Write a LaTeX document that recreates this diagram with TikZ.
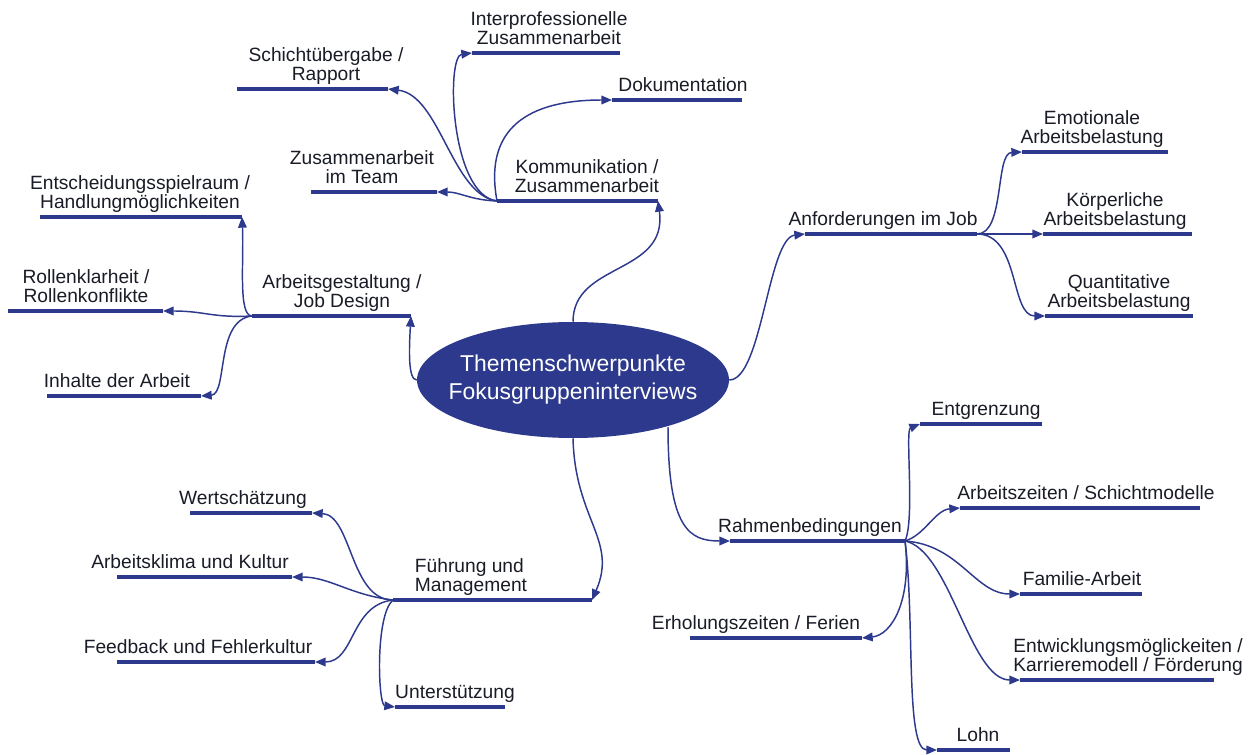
\documentclass[tikz,border=0pt]{standalone}
\usepackage{fontspec}
\setmainfont{Liberation Sans}
\usetikzlibrary{arrows.meta, positioning, shapes.geometric}
\definecolor{mapblue}{RGB}{44,57,140}
\definecolor{maptext}{RGB}{25,28,38}

\begin{document}
\begin{tikzpicture}[
            x=0.75pt, y=-0.75pt,
            bar/.style={draw=mapblue, line width=3.2pt},
            conn/.style={draw=mapblue, line width=1.1pt, -{Triangle[length=8pt,width=6.5pt]}},
            lbl/.style={text=maptext, font=\fontsize{14.4}{14.4}\selectfont, align=center, inner sep=0pt, text depth=0pt, anchor=south},
            hub/.style={ellipse, fill=mapblue, inner xsep=-10.5pt, inner ysep=0pt, minimum height=87pt, text=white, font=\fontsize{17.2}{21}\selectfont, align=center}
        ]
        \useasboundingbox (0,0) rectangle (1248,755);

        % Zentrum
        \node[hub] (center) at (573,380) {Themenschwerpunkte\\Fokusgruppeninterviews};

        % Kommunikation
        \coordinate (kommL) at (497,201); \coordinate (kommR) at (658,201);
        \draw[bar] (kommL) -- (kommR);
        \node[lbl] (komm) at (587,193) {Kommunikation /\\Zusammenarbeit};

        \coordinate (interproL) at (472,53); \draw[bar] (interproL) -- (620,53);
        \node[lbl] (interpro) at (549,45) {Interprofessionelle\\Zusammenarbeit};
        \coordinate (dokuL) at (612,100); \draw[bar] (dokuL) -- (742,100);
        \node[lbl] (doku) at (683,92) {Dokumentation};
        \coordinate (schichtR) at (388,89); \draw[bar] (237,89) -- (schichtR);
        \node[lbl] (schicht) at (326,81) {Schichtübergabe /\\Rapport};
        \coordinate (teamR) at (437,192); \draw[bar] (311,192) -- (teamR);
        \node[lbl] (team) at (362,184) {Zusammenarbeit\\im Team};

        % Arbeitsgestaltung
        \coordinate (jobL) at (252,316); \coordinate (jobR) at (411,316);
        \draw[bar] (jobL) -- (jobR);
        \node[lbl] (job) at (342,308) {Arbeitsgestaltung /\\Job Design};

        \coordinate (spielR) at (242,217); \draw[bar] (40,217) -- (spielR);
        \node[lbl] (spiel) at (140,209) {Entscheidungsspielraum /\\Handlungmöglichkeiten};
        \coordinate (rollenR) at (163,311); \draw[bar] (8,311) -- (rollenR);
        \node[lbl] (rollen) at (86,303) {Rollenklarheit /\\Rollenkonflikte};
        \coordinate (inhaltR) at (201,396); \draw[bar] (47,396) -- (inhaltR);
        \node[lbl] (inhalt) at (117,388) {Inhalte der Arbeit};

        % Anforderungen
        \coordinate (anfL) at (805,234); \coordinate (anfR) at (977,234);
        \draw[bar] (anfL) -- (anfR);
        \node[lbl] (anf) at (883,226) {Anforderungen im Job};

        \coordinate (emoL) at (1022,152); \draw[bar] (emoL) -- (1168,152);
        \node[lbl] (emo) at (1092,144) {Emotionale\\Arbeitsbelastung};
        \coordinate (koerpL) at (1043,234); \draw[bar] (koerpL) -- (1192,234);
        \node[lbl] (koerp) at (1115,226) {Körperliche\\Arbeitsbelastung};
        \coordinate (quantL) at (1045,316); \draw[bar] (quantL) -- (1193,316);
        \node[lbl] (quant) at (1119,308) {Quantitative\\Arbeitsbelastung};

        % Rahmenbedingungen
        \coordinate (rahmL) at (730,541); \coordinate (rahmR) at (905,541);
        \draw[bar] (rahmL) -- (rahmR);
        \node[lbl] (rahm) at (810,533) {Rahmenbedingungen};

        \coordinate (entgrL) at (920,424); \draw[bar] (entgrL) -- (1042,424);
        \node[lbl] (entgr) at (986,416) {Entgrenzung};
        \coordinate (zeitL) at (960,508); \draw[bar] (zeitL) -- (1200,508);
        \node[lbl] (zeit) at (1086,500) {Arbeitszeiten / Schichtmodelle};
        \coordinate (famL) at (1020,594); \draw[bar] (famL) -- (1142,594);
        \node[lbl] (fam) at (1082,586) {Familie-Arbeit};
        \coordinate (entwL) at (1020,680); \draw[bar] (entwL) -- (1214,680);
        \node[lbl] (entw) at (1128,672) {Entwicklungsmöglickeiten /\\Karrieremodell / Förderung};
        \coordinate (erhR) at (862,638); \draw[bar] (690,638) -- (erhR);
        \node[lbl] (erh) at (756,630) {Erholungszeiten / Ferien};
        \coordinate (lohnL) at (937,750); \draw[bar] (lohnL) -- (1010,750);
        \node[lbl] (lohn) at (978,742) {Lohn};

        % Fuehrung
        \coordinate (fuehrL) at (393,600); \coordinate (fuehrR) at (592,600);
        \draw[bar] (fuehrL) -- (fuehrR);
        \node[lbl, align=left] (fuehr) at (471,592) {Führung und\\Management};

        \coordinate (wertR) at (312,513); \draw[bar] (190,513) -- (wertR);
        \node[lbl] (wert) at (243,505) {Wertschätzung};
        \coordinate (klimaR) at (292,577); \draw[bar] (117,577) -- (klimaR);
        \node[lbl] (klima) at (190,569) {Arbeitsklima und Kultur};
        \coordinate (feedR) at (315,662); \draw[bar] (117,662) -- (feedR);
        \node[lbl] (feed) at (198,654) {Feedback und Fehlerkultur};
        \coordinate (untL) at (395,707); \draw[bar] (untL) -- (505,707);
        \node[lbl] (unt) at (455,699) {Unterstützung};

        % Verbindungen vom Zentrum
        \draw[conn] (center.north) .. controls (573,262) and (668,275) .. (kommR);
        \draw[conn] (center.west) .. controls (408,380) and (409,350) .. (jobR);
        \draw[conn] (center.east) .. controls (762,380) and (768,238) .. (anfL);
        \draw[conn] (668,427) .. controls (668,530) and (690,541) .. (rahmL);
        \draw[conn] (center.south) .. controls (575,520) and (618,540) .. (fuehrR);

        % Kommunikation -> Unterthemen
        \draw[conn] (kommL) .. controls (450,195) and (446,56) .. (interproL);
        \draw[conn] (kommL) .. controls (482,120) and (540,100) .. (dokuL);
        \draw[conn] (kommL) .. controls (452,195) and (440,95) .. (schichtR);
        \draw[conn] (kommL) .. controls (470,200) and (460,192) .. (teamR);

        % Arbeitsgestaltung -> Unterthemen
        \draw[conn] (jobL) .. controls (238,316) and (244,262) .. (spielR);
        \draw[conn] (jobL) .. controls (212,318) and (205,311) .. (rollenR);
        \draw[conn] (jobL) .. controls (215,320) and (228,394) .. (inhaltR);

        % Anforderungen -> Unterthemen
        \draw[conn] (anfR) .. controls (1005,234) and (995,153) .. (emoL);
        \draw[conn] (anfR) -- (koerpL);
        \draw[conn] (anfR) .. controls (1020,234) and (1010,316) .. (quantL);

        % Rahmenbedingungen -> Unterthemen
        \draw[conn] (rahmR) .. controls (915,520) and (905,430) .. (entgrL);
        \draw[conn] (rahmR) .. controls (925,535) and (935,510) .. (zeitL);
        \draw[conn] (rahmR) .. controls (960,545) and (975,594) .. (famL);
        \draw[conn] (rahmR) .. controls (950,550) and (970,680) .. (entwL);
        \draw[conn] (rahmR) .. controls (912,600) and (892,635) .. (erhR);
        \draw[conn] (rahmR) .. controls (915,620) and (905,750) .. (lohnL);

        % Fuehrung -> Unterthemen
        \draw[conn] (fuehrL) .. controls (350,600) and (352,515) .. (wertR);
        \draw[conn] (fuehrL) .. controls (350,595) and (330,577) .. (klimaR);
        \draw[conn] (fuehrL) .. controls (350,605) and (355,662) .. (feedR);
        \draw[conn] (fuehrL) .. controls (375,615) and (378,705) .. (untL);

    \end{tikzpicture}
\end{document}
